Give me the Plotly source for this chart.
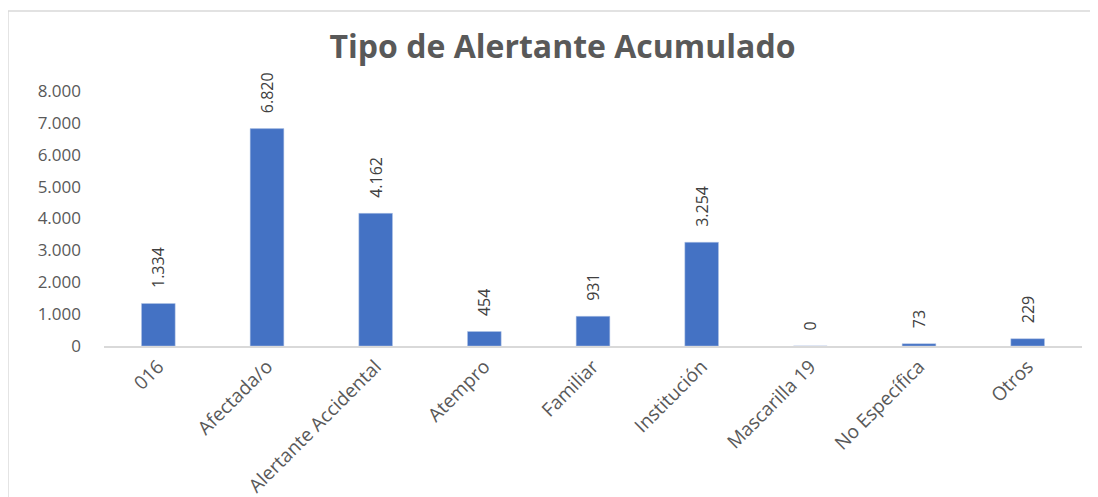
import plotly.graph_objects as go

# Data
categorias = ['016', 'Afectada/o', 'Alertante Accidental', 'Atempro', 'Familiar',
              'Institución', 'Mascarilla 19', 'No Específica', 'Otros']
valores = [1334, 6820, 4162, 454, 931, 3254, 0, 73, 229]
y_ticks = [0, 1000, 2000, 3000, 4000, 5000, 6000, 7000, 8000]

BAR_COLOR = '#4472C4'
TEXT_COLOR = '#595959'
FONT = 'Open Sans'

fig = go.Figure()

fig.add_trace(go.Bar(
    x=categorias,
    y=valores,
    marker=dict(color=BAR_COLOR, line=dict(color='#B4C7E7', width=0.5)),
    texttemplate='\u00a0\u00a0\u00a0%{y:,d}',
    textposition='outside',
    textangle=-90,
    constraintext='none',
    textfont=dict(family=FONT, size=16, color='#404040'),
    cliponaxis=False,
    hoverinfo='x+y'
))

# the page adds ~8px offset, margins compensate for it
fig.update_layout(
    width=1098,
    height=497,
    margin=dict(l=96, r=24, t=83, b=159),
    paper_bgcolor='white',
    plot_bgcolor='white',
    separators=',.',
    bargap=0.69,
    showlegend=False,
    font=dict(family=FONT, color=TEXT_COLOR),
    title=dict(
        text='<b>Tipo de Alertante Acumulado</b>',
        x=0.505,
        xanchor='center',
        y=0.921,
        yanchor='middle',
        font=dict(family=FONT, size=32, color=TEXT_COLOR)
    ),
    xaxis=dict(
        tickangle=-45,
        tickfont=dict(family=FONT, size=19, color=TEXT_COLOR),
        showline=True,
        linecolor='#D9D9D9',
        linewidth=2,
        showgrid=False,
        ticks='',
        automargin=False
    ),
    yaxis=dict(
        range=[0, 8000],
        tickvals=y_ticks,
        tickformat=',d',
        tickfont=dict(family=FONT, size=17, color=TEXT_COLOR),
        showline=False,
        showgrid=False,
        zeroline=False,
        ticklabelstandoff=22,
        automargin=False
    ),
    shapes=[dict(
        type='rect', xref='paper', yref='paper',
        x0=-0.0982, x1=1.1, y0=-0.9, y1=1.3137,
        line=dict(color='#D9D9D9', width=1.5),
        fillcolor='rgba(0,0,0,0)', layer='below'
    )]
)

fig.write_html('out.html')
